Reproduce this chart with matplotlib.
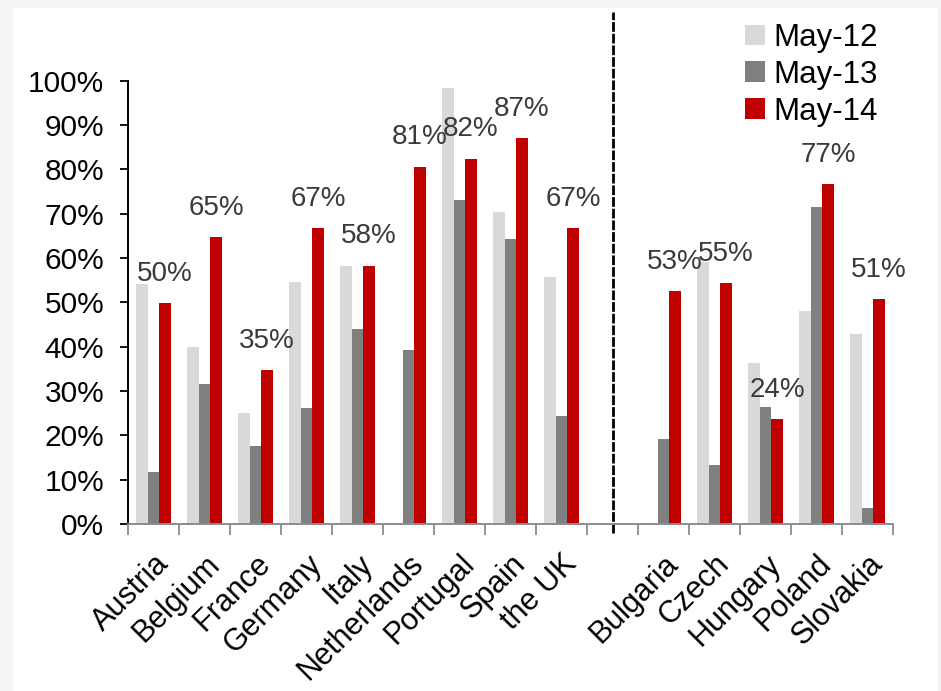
import numpy as np
import matplotlib
matplotlib.use("Agg")
import matplotlib.pyplot as plt
from matplotlib.patches import Rectangle

plt.rcParams['font.family'] = ['Liberation Sans', 'DejaVu Sans']

# western europe and CEE groups, split by the dashed line
west = ['Austria', 'Belgium', 'France', 'Germany', 'Italy', 'Netherlands',
        'Portugal', 'Spain', 'the UK']
east = ['Bulgaria', 'Czech', 'Hungary', 'Poland', 'Slovakia']

may12_west = [54.1, 40.0, 25.0, 54.5, 58.3, 0.0, 98.3, 70.3, 55.7]
may13_west = [11.8, 31.5, 17.7, 26.2, 43.9, 39.2, 73.2, 64.3, 24.3]
may14_west = [49.8, 64.7, 34.7, 66.8, 58.3, 80.6, 82.4, 87.1, 66.8]

may12_east = [0.0, 59.1, 36.4, 48.0, 42.9]
may13_east = [19.1, 13.3, 26.3, 71.6, 3.6]
may14_east = [52.6, 54.4, 23.7, 76.7, 50.7]

labels_west = ['50%', '65%', '35%', '67%', '58%', '81%', '82%', '87%', '67%']
labels_east = ['53%', '55%', '24%', '77%', '51%']

series_names = ['May-12', 'May-13', 'May-14']
colors = ['#d9d9d9', '#808080', '#c00000']

# one empty slot between the two groups
pos_west = np.arange(len(west))
pos_east = np.arange(len(east)) + len(west) + 1
gap_pos = len(west)
positions = np.concatenate([pos_west, pos_east])
names = west + east

series = [np.array(may12_west + may12_east) / 100,
          np.array(may13_west + may13_east) / 100,
          np.array(may14_west + may14_east) / 100]
labels = labels_west + labels_east

fig = plt.figure(figsize=(9.41, 6.91), dpi=100, facecolor='#f4f4f4')
bg = Rectangle((13 / 941, 0), 925 / 941, 683 / 691,
               transform=fig.transFigure, facecolor='white',
               edgecolor='none', zorder=-10)
fig.add_artist(bg)
ax = fig.add_axes([128 / 941, 167 / 691, 765 / 941, 443.3 / 691])
ax.set_facecolor('none')

w = 0.225
for i, (vals, c, nm) in enumerate(zip(series, colors, series_names)):
    ax.bar(positions + (i - 1) * w, vals, width=w, color=c, label=nm,
           linewidth=0)

for x, v, t in zip(positions, series[2], labels):
    ax.annotate(t, (x + w, v), xytext=(0, 16), textcoords='offset points',
                ha='center', va='baseline', fontsize=20, color='#3a3a3a')

ax.axvline(gap_pos, ymin=-0.02, ymax=1.155, color='black', lw=2,
           linestyle=(0, (3.5, 0.7)), clip_on=False)

ax.set_xlim(-0.5, len(west) + len(east) + 0.5)
ax.set_ylim(0, 1)
ax.set_yticks(np.arange(0, 1.01, 0.1))
ax.set_yticklabels([f'{int(round(t * 100))}%' for t in np.arange(0, 1.01, 0.1)])
ax.tick_params(axis='y', length=6, width=1.3, direction='out', pad=11,
               labelsize=21.5, colors='black')

ax.set_xticks(positions)
ax.set_xticklabels(names, rotation=45, ha='right', rotation_mode='anchor',
                   fontsize=22)
ax.set_xticks(np.arange(-0.5, len(west) + len(east) + 1), minor=True)
ax.tick_params(axis='x', which='major', length=0, pad=18)
ax.tick_params(axis='x', which='minor', length=8, width=1.3, color='#8c8c8c',
               direction='out')

for s in ['top', 'right']:
    ax.spines[s].set_visible(False)
ax.spines['left'].set_linewidth(1.4)
ax.spines['left'].set_color('black')
ax.spines['bottom'].set_linewidth(1.4)
ax.spines['bottom'].set_color('#8c8c8c')

ax.legend(loc='upper left', bbox_to_anchor=(745 / 941, 1 - 23 / 691),
          bbox_transform=fig.transFigure, frameon=False, fontsize=22.5,
          handlelength=0.65, handleheight=0.65, handletextpad=0.25,
          labelspacing=0.22, borderpad=0, borderaxespad=0)

fig.savefig('out.png', dpi=100, facecolor=fig.get_facecolor())
